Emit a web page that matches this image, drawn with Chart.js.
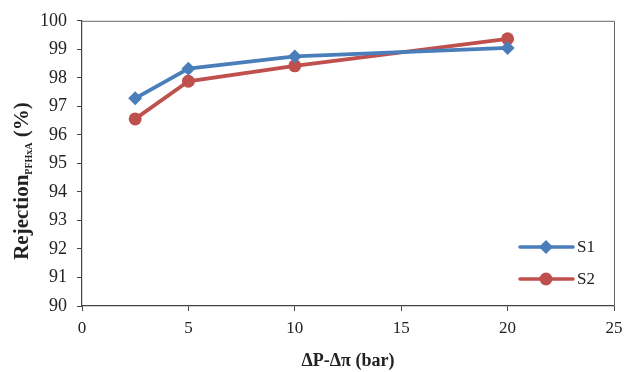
<!DOCTYPE html>
<html>
<head>
<meta charset="utf-8">
<script src="https://cdn.jsdelivr.net/npm/chart.js@4/dist/chart.umd.min.js"></script>
<style>
  html, body { margin: 0; padding: 0; background: #fff; }
  #wrap { width: 631px; height: 372px; }
</style>
</head>
<body>
<div id="wrap"><canvas id="rejectionChart"></canvas></div>
<script>
const pressure = [2.5, 5, 10, 20];
const s1Values = [97.28, 98.32, 98.75, 99.05];
const s2Values = [96.56, 97.88, 98.42, 99.37];
const seriesNames = ["S1", "S2"];
const xTicks = [0, 5, 10, 15, 20, 25];
const yTicks = [90, 91, 92, 93, 94, 95, 96, 97, 98, 99, 100];

const BLUE = "#4a7ebb";
const RED = "#c0504d";
const AXIS = "#444";
const SERIF = "'Liberation Serif', 'Times New Roman', serif";
const NARROW = "'Liberation Sans Narrow', 'Liberation Serif', serif";

// plot frame, y title with subscript, and the inset legend
const decorations = {
  id: "decorations",
  afterDraw(chart) {
    const { ctx, chartArea: a } = chart;
    ctx.save();
    ctx.strokeStyle = "#666";
    ctx.lineWidth = 1;
    ctx.beginPath();
    ctx.moveTo(a.left, a.top + 0.5);
    ctx.lineTo(a.right + 0.5, a.top + 0.5);
    ctx.lineTo(a.right + 0.5, a.bottom);
    ctx.stroke();

    // y axis title
    ctx.translate(23, 181);
    ctx.rotate(-Math.PI / 2);
    ctx.fillStyle = "#222";
    ctx.textBaseline = "middle";
    ctx.textAlign = "left";
    const big = `bold 21px ${SERIF}`;
    const small = `bold 10px ${SERIF}`;
    ctx.font = big;
    const w1 = ctx.measureText("Rejection").width;
    ctx.font = small;
    const w2 = ctx.measureText("PFHxA").width;
    ctx.font = big;
    const w3 = ctx.measureText(" (%)").width;
    let x = -(w1 + w2 + w3) / 2;
    ctx.fillText("Rejection", x, 0);
    x += w1;
    ctx.font = small;
    ctx.fillText("PFHxA", x, 6);
    x += w2;
    ctx.font = big;
    ctx.fillText(" (%)", x, 0);
    ctx.restore();

    // legend
    const items = [
      { name: seriesNames[0], color: BLUE, style: "rectRot", y: 247 },
      { name: seriesNames[1], color: RED, style: "circle", y: 279 }
    ];
    ctx.save();
    items.forEach((it) => {
      ctx.strokeStyle = it.color;
      ctx.lineWidth = 3.5;
      ctx.lineCap = "round";
      ctx.beginPath();
      ctx.moveTo(520, it.y);
      ctx.lineTo(573, it.y);
      ctx.stroke();
      ctx.fillStyle = it.color;
      Chart.helpers.drawPoint(ctx, { pointStyle: it.style, radius: it.style === "circle" ? 6.5 : 7, borderWidth: 0 }, 546, it.y);
      ctx.fillStyle = "#222";
      ctx.font = `17px ${SERIF}`;
      ctx.textBaseline = "middle";
      ctx.textAlign = "left";
      ctx.fillText(it.name, 577, it.y + 1);
    });
    ctx.restore();
  }
};

new Chart(document.getElementById("rejectionChart"), {
  type: "line",
  data: {
    datasets: [
      {
        label: seriesNames[0],
        data: pressure.map((p, i) => ({ x: p, y: s1Values[i] })),
        borderColor: BLUE,
        backgroundColor: BLUE,
        borderWidth: 3.8,
        pointStyle: "rectRot",
        pointRadius: 7,
        pointBorderWidth: 0
      },
      {
        label: seriesNames[1],
        data: pressure.map((p, i) => ({ x: p, y: s2Values[i] })),
        borderColor: RED,
        backgroundColor: RED,
        borderWidth: 3.8,
        pointStyle: "circle",
        pointRadius: 6.5,
        pointBorderWidth: 0
      }
    ]
  },
  options: {
    responsive: true,
    maintainAspectRatio: false,
    animation: false,
    layout: { padding: { left: 0, right: 17, top: 20, bottom: 0 } },
    plugins: { legend: { display: false }, tooltip: { enabled: false } },
    scales: {
      x: {
        type: "linear",
        min: 0,
        max: 25,
        afterBuildTicks: (s) => { s.ticks = xTicks.map((v) => ({ value: v })); },
        afterFit: (s) => { s.height = 66; },
        border: { color: AXIS, width: 1.2 },
        grid: { drawOnChartArea: false, drawTicks: true, tickLength: 5, color: AXIS },
        ticks: { color: "#222", font: { family: SERIF, size: 17 }, padding: 7, maxRotation: 0 },
        title: {
          display: true,
          text: "ΔP-Δπ (bar)",
          color: "#222",
          font: { family: SERIF, size: 18, weight: "bold" },
          padding: { top: 4, bottom: 0 }
        }
      },
      y: {
        min: 90,
        max: 100,
        afterBuildTicks: (s) => { s.ticks = yTicks.map((v) => ({ value: v })); },
        afterFit: (s) => { s.width = 82; },
        border: { color: AXIS, width: 1.2 },
        grid: { drawOnChartArea: false, drawTicks: true, tickLength: 5, color: AXIS },
        ticks: { color: "#222", font: { family: NARROW, size: 18 }, padding: 10 }
      }
    }
  },
  plugins: [decorations]
});
</script>
</body>
</html>
